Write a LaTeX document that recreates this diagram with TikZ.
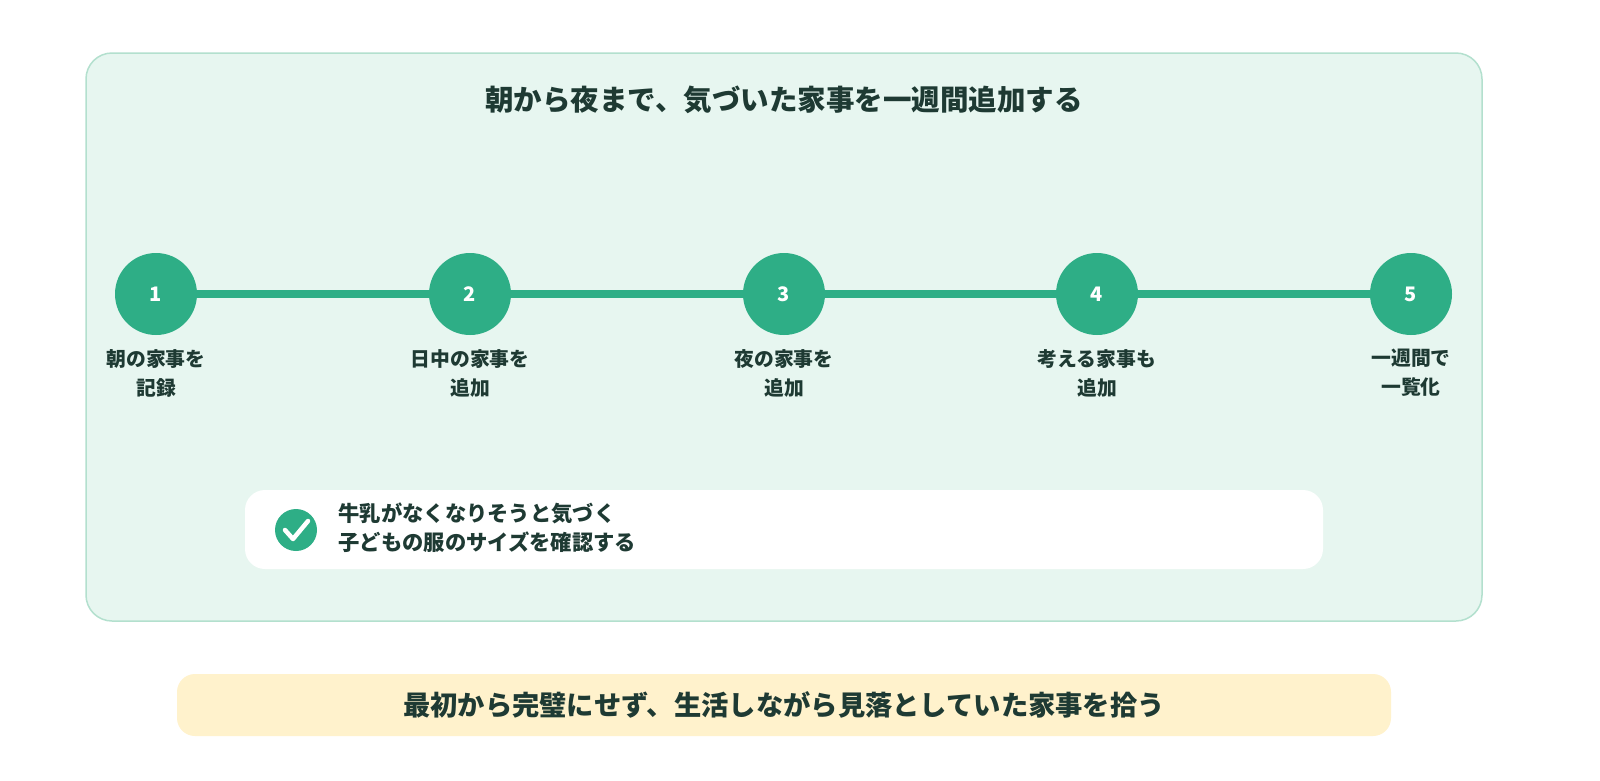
\documentclass[tikz,border=0pt]{standalone}
\usepackage{fontspec}
\setmainfont{Noto Sans CJK JP}
\usetikzlibrary{backgrounds}
\begin{document}
\begin{tikzpicture}[x=1pt,y=-1pt,
  txt/.style={text=textc,font=\bfseries\fontsize{19.8}{29}\selectfont,align=center},
  stepc/.style={circle,fill=grn,minimum size=82pt,inner sep=0pt,text=white,font=\bfseries\fontsize{20}{20}\selectfont}]
\definecolor{grn}{HTML}{2EAE86}
\definecolor{panel}{HTML}{E7F6F0}
\definecolor{panelb}{HTML}{B3E0CE}
\definecolor{textc}{HTML}{1E3A33}
\definecolor{yel}{HTML}{FFF2CC}
\useasboundingbox (0,0) rectangle (1600,780);
\node[txt,font=\bfseries\fontsize{28.5}{32}\selectfont] (title) at (784,100) {朝から夜まで、気づいた家事を一週間追加する};
\node[stepc] (s1) at (156,294) {1};
\node[stepc] (s2) at (470,294) {2};
\node[stepc] (s3) at (784,294) {3};
\node[stepc] (s4) at (1097,294) {4};
\node[stepc] (s5) at (1411,294) {5};
\begin{pgfonlayer}{background}
\fill[white] (0,0) rectangle (1600,780);
\draw[fill=panel,draw=panelb,line width=1.5pt,rounded corners=26pt] (86,53) rectangle (1482,621);
\foreach \a/\b in {s1/s2,s2/s3,s3/s4,s4/s5}{\draw[grn,line width=8pt] (\a.center) -- (\b.center);}
\end{pgfonlayer}
\node[txt] (l1) at (156,373) {朝の家事を\\記録};
\node[txt] (l2) at (470,373) {日中の家事を\\追加};
\node[txt] (l3) at (784,373) {夜の家事を\\追加};
\node[txt] (l4) at (1097,373) {考える家事も\\追加};
\node[txt] (l5) at (1411,373) {一週間で\\一覧化};
\fill[white,rounded corners=20pt] (245,490) rectangle (1323,569);
\node[circle,fill=grn,minimum size=42pt,inner sep=0pt] (chk) at (296,530) {};
\draw[white,line width=4.5pt,line cap=round,line join=round] (285,530) -- (293,539) -- (308,521);
\node[txt,align=left,anchor=west,font=\bfseries\fontsize{21.3}{29}\selectfont] (note) at (335,528) {牛乳がなくなりそうと気づく\\子どもの服のサイズを確認する};
\fill[yel,rounded corners=18pt] (177,674) rectangle (1391,736);
\node[txt,font=\bfseries\fontsize{27.3}{30}\selectfont] (concl) at (784,705) {最初から完璧にせず、生活しながら見落としていた家事を拾う};
\end{tikzpicture}
\end{document}
